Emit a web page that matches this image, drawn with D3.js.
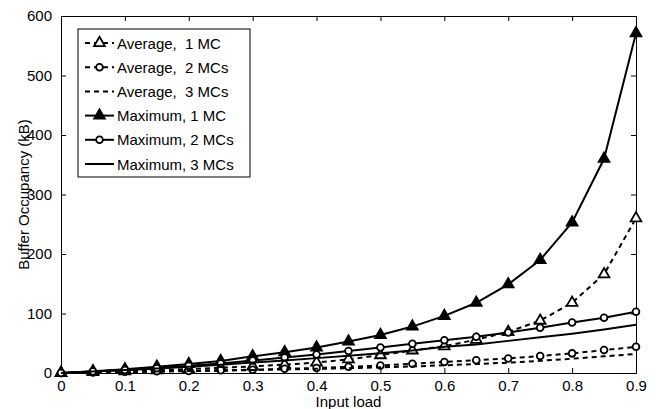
<!DOCTYPE html>
<html>
<head>
<meta charset="utf-8">
<script src="https://cdn.jsdelivr.net/npm/d3@7"></script>
<style>
body { margin:0; background:#fff; }
text { font-family: "Liberation Sans", Arial, sans-serif; }
</style>
</head>
<body>
<svg id="chart"></svg>
<script>
var load = [0,0.05,0.1,0.15,0.2,0.25,0.3,0.35,0.4,0.45,0.5,0.55,0.6,0.65,0.7,0.75,0.8,0.85,0.9];

var avg1 = [0,1.5,3,4.5,6.5,9,11,14,17.5,23,30,38,45,56,69,88,118,166,260];
var avg2 = [0,1,2,3,3.5,4.5,5.5,7,8.5,10.5,12.5,15.5,18.5,21.5,24.5,28.5,33,38.5,44];
var avg3 = [0,0.8,1.6,2.4,3.2,4,5,6,7,8,9.5,11,13,15,17.5,20.5,24,28,32];
var max1 = [0,3,6.5,10.5,15,20,28,35,43,53,64,78,96,118,149,190,253,360,571];
var max2 = [0,2.5,5,8,12,16,21,26,31,37,43,49,55,61,68,76,85,93,103];
var max3 = [0,2.5,5,7.5,10.5,14,17.5,21,25,29,33,38,44,48,54,60,66,73,81];

var xTicks = [0,0.1,0.2,0.3,0.4,0.5,0.6,0.7,0.8,0.9];
var yTicks = [0,100,200,300,400,500,600];

var seriesNames = ["Average,  1 MC","Average,  2 MCs","Average,  3 MCs","Maximum, 1 MC","Maximum, 2 MCs","Maximum, 3 MCs"];

var series = [
    {name:seriesNames[0], values:avg1, dash:"5,4", marker:"tri", fill:"#fff"},
    {name:seriesNames[1], values:avg2, dash:"5,4", marker:"circ", fill:"#fff"},
    {name:seriesNames[2], values:avg3, dash:"5,4", marker:null},
    {name:seriesNames[3], values:max1, dash:null, marker:"tri", fill:"#000"},
    {name:seriesNames[4], values:max2, dash:null, marker:"circ", fill:"#fff"},
    {name:seriesNames[5], values:max3, dash:null, marker:null}
];

var screen = {width:662, height:409};
var margins = {top:16, left:61, right:26, bottom:36};
var graph = {
    width: screen.width - margins.left - margins.right,
    height: screen.height - margins.top - margins.bottom
};

var svg = d3.select("#chart")
    .attr("width", screen.width)
    .attr("height", screen.height);

var x = d3.scaleLinear().domain([0,0.9]).range([0, graph.width]);
var y = d3.scaleLinear().domain([0,600]).range([graph.height, 0]);

var g = svg.append("g")
    .attr("transform","translate("+margins.left+","+margins.top+")");

// axes, ticks inward on all four sides
var fmt = function(d){ return d3.format("")(d); };
var tl = 5;
var bottomAxis = d3.axisBottom(x).tickValues(xTicks).tickSize(-tl).tickPadding(7).tickFormat(fmt);
var topAxis = d3.axisTop(x).tickValues(xTicks).tickSize(-tl).tickFormat("");
var leftAxis = d3.axisLeft(y).tickValues(yTicks).tickSize(-tl).tickPadding(tl+4);
var rightAxis = d3.axisRight(y).tickValues(yTicks).tickSize(-tl).tickFormat("");

g.append("g").attr("transform","translate(0,"+graph.height+")").call(bottomAxis);
g.append("g").call(topAxis);
g.append("g").call(leftAxis);
g.append("g").attr("transform","translate("+graph.width+",0)").call(rightAxis);

g.selectAll(".domain").attr("stroke","#000").attr("stroke-width",1);
g.selectAll(".tick line").attr("stroke","#000");
g.selectAll(".tick text").attr("fill","#000").style("font-size","15px");

var line = d3.line()
    .x(function(d,i){ return x(load[i]); })
    .y(function(d){ return y(d); });

var tri = d3.symbol().type(d3.symbolTriangle).size(50);
var circ = d3.symbol().type(d3.symbolCircle).size(36);

var drawMarker = function(sel, s){
    sel.attr("d", s.marker == "tri" ? tri() : circ())
        .attr("fill", s.fill)
        .attr("stroke","#000")
        .attr("stroke-width",1.8);
};

var plot = g.append("g");
series.forEach(function(s){
    plot.append("path")
        .attr("d", line(s.values))
        .attr("fill","none")
        .attr("stroke","#000")
        .attr("stroke-width",2)
        .attr("stroke-dasharray", s.dash);
    if (s.marker)
    {
        plot.selectAll(null)
            .data(s.values)
            .enter()
            .append("path")
            .attr("transform", function(d,i){ return "translate("+x(load[i])+","+y(d)+")"; })
            .call(drawMarker, s);
    }
});

// legend
var legend = g.append("g").attr("transform","translate(17,13)");
legend.append("rect")
    .attr("width",172).attr("height",148)
    .attr("fill","#fff").attr("stroke","#000").attr("stroke-width",1);

series.forEach(function(s,i){
    var row = legend.append("g").attr("transform","translate(0,"+(14+i*24.2)+")");
    row.append("line")
        .attr("x1",7).attr("x2",36).attr("y1",0).attr("y2",0)
        .attr("stroke","#000").attr("stroke-width",2)
        .attr("stroke-dasharray", s.dash);
    if (s.marker)
    {
        row.append("path").attr("transform","translate(21.5,0)").call(drawMarker, s);
    }
    row.append("text")
        .attr("x",39).attr("y",5.5)
        .style("font-size","15px")
        .style("white-space","pre")
        .attr("xml:space","preserve")
        .text(s.name);
});

// axis titles
svg.append("text")
    .attr("x", margins.left + graph.width/2)
    .attr("y", 407)
    .attr("text-anchor","middle")
    .style("font-size","15px")
    .text("Input load");

svg.append("text")
    .attr("transform","translate(29,"+(margins.top+graph.height/2)+") rotate(-90)")
    .attr("text-anchor","middle")
    .style("font-size","15px")
    .text("Buffer Occupancy (kB)");
</script>
</body>
</html>
